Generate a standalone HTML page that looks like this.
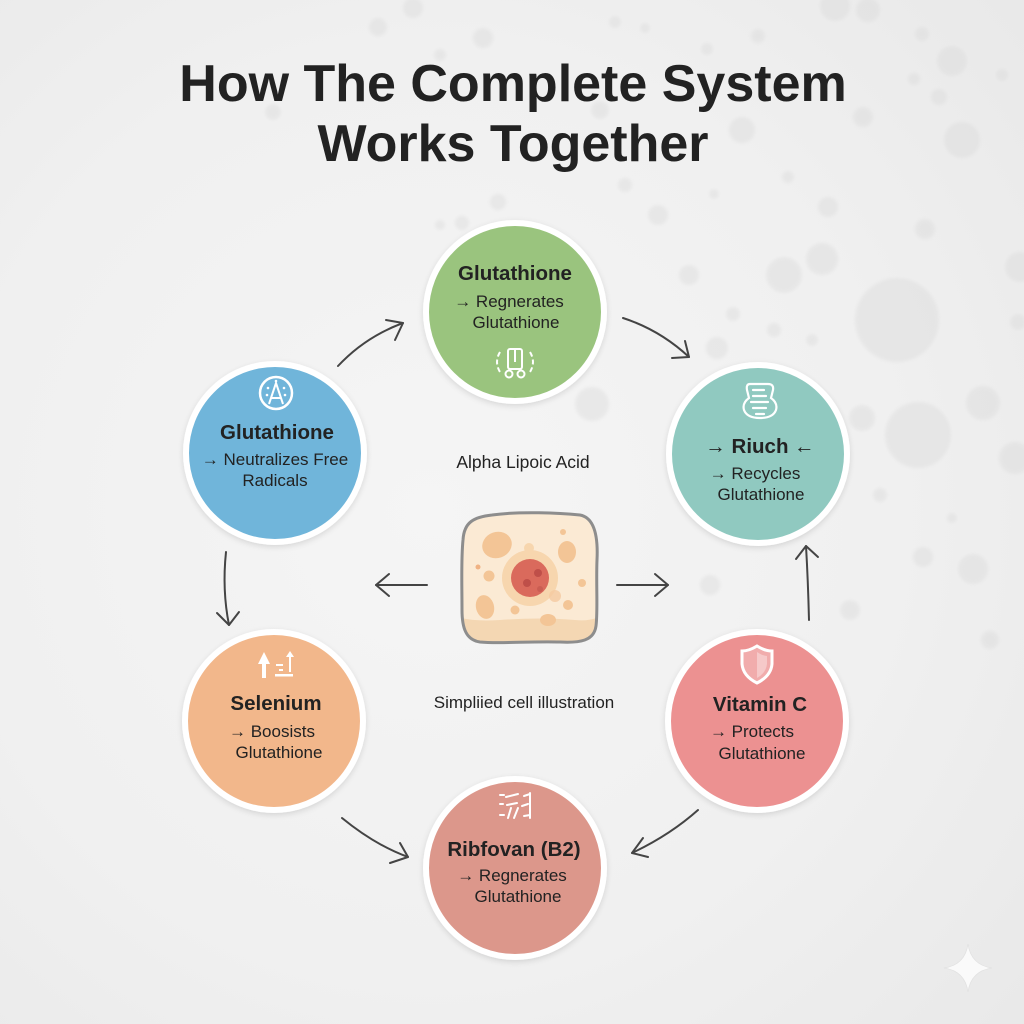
<!DOCTYPE html>
<html><head><meta charset="utf-8"><style>
html,body{margin:0;padding:0;width:1024px;height:1024px;overflow:hidden;background:#efefef}
svg{display:block}
text{font-family:"Liberation Sans",Arial,sans-serif;fill:#222}
.b{font-weight:bold;font-size:20.5px}
.r{font-size:17px}
.ar{font-weight:bold}
</style></head><body>
<svg width="1024" height="1024" viewBox="0 0 1024 1024" xmlns="http://www.w3.org/2000/svg">
<defs>
<radialGradient id="bg" cx="0.42" cy="0.5" r="0.75">
<stop offset="0" stop-color="#f5f5f5"/><stop offset="0.6" stop-color="#f0f0f0"/><stop offset="1" stop-color="#e9e9e9"/>
</radialGradient>
<filter id="sh" x="-20%" y="-20%" width="140%" height="140%"><feDropShadow dx="0" dy="2" stdDeviation="3" flood-color="#000" flood-opacity="0.12"/></filter>
<filter id="blur1"><feGaussianBlur stdDeviation="1.5"/></filter>
<clipPath id="cellclip"><path d="M492,515 C520,511 560,513 580,515 C596,518 598,540 597,560 C596,585 598,610 596,626 C594,641 580,643 560,642 C530,641 500,644 480,642 C466,640 462,628 462,610 C462,585 461,560 463,540 C464,522 474,517 492,515 Z"/></clipPath>
</defs>
<rect width="1024" height="1024" fill="url(#bg)"/>

<!-- bubbles -->
<g fill="#d8d8d8" opacity="0.38" filter="url(#blur1)">
<circle cx="952" cy="61" r="15"/><circle cx="962" cy="140" r="18"/><circle cx="897" cy="320" r="42"/>
<circle cx="918" cy="435" r="33"/><circle cx="784" cy="275" r="18"/><circle cx="822" cy="259" r="16"/>
<circle cx="828" cy="207" r="10"/><circle cx="925" cy="229" r="10"/><circle cx="939" cy="97" r="8"/>
<circle cx="922" cy="34" r="7"/><circle cx="914" cy="79" r="6"/><circle cx="1002" cy="75" r="6"/>
<circle cx="863" cy="117" r="10"/><circle cx="742" cy="130" r="13"/><circle cx="758" cy="36" r="7"/>
<circle cx="707" cy="49" r="6"/><circle cx="645" cy="28" r="5"/><circle cx="615" cy="22" r="6"/>
<circle cx="835" cy="6" r="15"/><circle cx="868" cy="10" r="12"/><circle cx="788" cy="177" r="6"/><circle cx="714" cy="194" r="5"/>
<circle cx="658" cy="215" r="10"/><circle cx="689" cy="275" r="10"/><circle cx="733" cy="314" r="7"/>
<circle cx="774" cy="330" r="7"/><circle cx="717" cy="348" r="11"/><circle cx="812" cy="340" r="6"/>
<circle cx="983" cy="403" r="17"/><circle cx="1015" cy="458" r="16"/><circle cx="952" cy="518" r="5"/>
<circle cx="923" cy="557" r="10"/><circle cx="973" cy="569" r="15"/><circle cx="1020" cy="267" r="15"/>
<circle cx="1018" cy="322" r="8"/><circle cx="862" cy="418" r="13"/><circle cx="592" cy="404" r="17"/>
<circle cx="378" cy="27" r="9"/><circle cx="413" cy="8" r="10"/><circle cx="483" cy="38" r="10"/>
<circle cx="440" cy="55" r="6"/><circle cx="273" cy="112" r="8"/><circle cx="498" cy="202" r="8"/>
<circle cx="462" cy="223" r="7"/><circle cx="440" cy="225" r="5"/><circle cx="600" cy="110" r="9"/>
<circle cx="625" cy="185" r="7"/><circle cx="710" cy="585" r="10"/><circle cx="850" cy="610" r="10"/>
<circle cx="880" cy="495" r="7"/><circle cx="990" cy="640" r="9"/>
</g>

<!-- title -->
<g style="font-weight:bold;font-size:52px" text-anchor="middle">
<text x="513" y="101" fill="#222">How The Complete System</text>
<text x="513" y="161" fill="#222">Works Together</text>
</g>

<!-- arrows -->
<g stroke="#444" stroke-width="2" fill="none" stroke-linecap="round" stroke-linejoin="round">
<path d="M338,366 Q365,337 403,323"/><path d="M386,320 L403,323 L395,340"/>
<path d="M623,318 Q660,330 689,357"/><path d="M672,358 L689,357 L685,341"/>
<path d="M809,620 Q808,580 806,546"/><path d="M796,559 L806,546 L818,557"/>
<path d="M698,810 Q670,835 632,853"/><path d="M643,838 L632,853 L648,857"/>
<path d="M342,818 Q375,845 408,857"/><path d="M400,843 L408,857 L390,863"/>
<path d="M226,552 Q222,590 229,625"/><path d="M217,613 L229,625 L239,612"/>
<path d="M427,585 L376,585"/><path d="M389,574 L376,585 L389,596"/>
<path d="M617,585 L668,585"/><path d="M655,574 L668,585 L655,596"/>
</g>

<!-- circles -->
<g filter="url(#sh)" stroke="#fff" stroke-width="6">
<circle cx="515" cy="312" r="89" fill="#9ac47e"/>
<circle cx="275" cy="453" r="89" fill="#70b5da"/>
<circle cx="758" cy="454" r="89" fill="#90c9c0"/>
<circle cx="274" cy="721" r="89" fill="#f2b78b"/>
<circle cx="757" cy="721" r="89" fill="#ec9191"/>
<circle cx="515" cy="868" r="89" fill="#dc978b"/>
</g>

<!-- green -->
<text class="b" x="515" y="280" text-anchor="middle">Glutathione</text>
<text class="r" x="509" y="307" text-anchor="middle"><tspan class="ar">→</tspan> Regnerates</text>
<text class="r" x="516" y="328" text-anchor="middle">Glutathione</text>
<g stroke="#fff" stroke-width="2" fill="none">
<rect x="508" y="349" width="14" height="20" rx="2"/>
<line x1="515" y1="349" x2="515" y2="362"/>
<circle cx="509" cy="374" r="3.5"/><circle cx="521" cy="374" r="3.5"/>
<path d="M500,352 Q494,362 500,372" stroke-dasharray="5 3"/>
<path d="M530,352 Q536,362 530,372" stroke-dasharray="5 3"/>
</g>

<!-- blue -->
<circle cx="276" cy="393" r="16" fill="none" stroke="#fff" stroke-width="2.5"/>
<path d="M269,404 L276,383 L283,404 M271,398 L281,398" stroke="#fff" stroke-width="2" fill="none"/>
<g fill="#fff"><circle cx="268" cy="388" r="1.3"/><circle cx="284" cy="388" r="1.3"/><circle cx="267" cy="395" r="1.3"/><circle cx="285" cy="395" r="1.3"/><circle cx="276" cy="381" r="1.3"/></g>
<text class="b" x="277" y="439" text-anchor="middle">Glutathione</text>
<text class="r" x="275" y="465" text-anchor="middle"><tspan class="ar">→</tspan> Neutralizes Free</text>
<text class="r" x="275" y="486" text-anchor="middle">Radicals</text>

<!-- teal -->
<g stroke="#fff" stroke-width="2.2" fill="none" stroke-linecap="round">
<path d="M750,384 L768,384 Q774,384 773,390 L771,398 Q778,403 776,410 Q773,418 760,418 Q747,418 744,410 Q742,403 749,398 L747,390 Q746,384 750,384 Z"/>
<line x1="753" y1="390" x2="764" y2="390"/><line x1="753" y1="396" x2="766" y2="396"/>
<line x1="751" y1="402" x2="768" y2="402"/><line x1="753" y1="408" x2="766" y2="408"/><line x1="756" y1="414" x2="764" y2="414"/>
</g>
<text class="b" x="760" y="453" text-anchor="middle" style="font-size:20.5px">→ Riuch ←</text>
<text class="r" x="755" y="479" text-anchor="middle"><tspan class="ar">→</tspan> Recycles</text>
<text class="r" x="761" y="500" text-anchor="middle">Glutathione</text>

<!-- orange -->
<g fill="#fff">
<path d="M258,664 L264,652 L270,664 L266,664 L266,678 L262,678 L262,664 Z"/>
<path d="M286,657 L290,651 L294,657 L291,657 L291,672 L289,672 L289,657 Z"/>
<rect x="275" y="674" width="18" height="2.5"/><rect x="276" y="664" width="7" height="2"/><rect x="279" y="669" width="4" height="2"/>
</g>
<text class="b" x="276" y="710" text-anchor="middle">Selenium</text>
<text class="r" x="272" y="737" text-anchor="middle"><tspan class="ar">→</tspan> Boosists</text>
<text class="r" x="279" y="758" text-anchor="middle">Glutathione</text>

<!-- pink -->
<path d="M757,646 Q765,651 772,651 L772,664 Q771,676 757,683 Q743,676 742,664 L742,651 Q749,651 757,646 Z" fill="rgba(255,255,255,0.25)" stroke="#fff" stroke-width="3"/>
<path d="M757,652 Q763,656 767,656 L767,664 Q766,673 757,678 Z" fill="rgba(255,255,255,0.35)"/>
<text class="b" x="760" y="711" text-anchor="middle">Vitamin C</text>
<text class="r" x="752" y="737" text-anchor="middle"><tspan class="ar">→</tspan> Protects</text>
<text class="r" x="762" y="759" text-anchor="middle">Glutathione</text>

<!-- red -->
<g stroke="#fff" stroke-width="2" fill="none" stroke-linecap="round">
<line x1="500" y1="795" x2="504" y2="795"/><line x1="506" y1="797" x2="518" y2="794"/><line x1="524" y1="796" x2="530" y2="794"/>
<line x1="500" y1="804" x2="503" y2="804"/><line x1="507" y1="805" x2="517" y2="803"/><line x1="522" y1="806" x2="528" y2="804"/>
<line x1="500" y1="815" x2="504" y2="815"/><line x1="508" y1="818" x2="511" y2="808"/><line x1="514" y1="818" x2="518" y2="808"/><line x1="524" y1="816" x2="530" y2="815"/>
<line x1="530" y1="793" x2="530" y2="818"/>
</g>
<text class="b" x="514" y="856" text-anchor="middle">Ribfovan (B2)</text>
<text class="r" x="512" y="881" text-anchor="middle"><tspan class="ar">→</tspan> Regnerates</text>
<text class="r" x="518" y="902" text-anchor="middle">Glutathione</text>

<!-- center labels -->
<text x="523" y="468" text-anchor="middle" style="font-size:17.5px">Alpha Lipoic Acid</text>
<text x="524" y="708" text-anchor="middle" style="font-size:17px">Simpliied cell illustration</text>

<!-- cell -->
<g>
<path d="M492,515 C520,511 560,513 580,515 C596,518 598,540 597,560 C596,585 598,610 596,626 C594,641 580,643 560,642 C530,641 500,644 480,642 C466,640 462,628 462,610 C462,585 461,560 463,540 C464,522 474,517 492,515 Z" fill="#fbead4"/>
<g clip-path="url(#cellclip)">
<path d="M455,616 Q470,622 500,620 Q540,617 575,620 Q592,622 605,614 L605,650 L455,650 Z" fill="#f4d7b3"/>
<ellipse cx="497" cy="545" rx="15" ry="13" fill="#f3c596" transform="rotate(-20 497 545)"/>
<ellipse cx="567" cy="552" rx="9" ry="11" fill="#f3c596"/>
<circle cx="563" cy="532" r="3" fill="#f3c596"/>
<circle cx="478" cy="567" r="2.5" fill="#f0b283"/>
<circle cx="489" cy="576" r="5.5" fill="#f3c596"/>
<circle cx="582" cy="583" r="4" fill="#f3c596"/>
<ellipse cx="485" cy="607" rx="9" ry="12" fill="#f3c596" transform="rotate(-15 485 607)"/>
<circle cx="515" cy="610" r="4.5" fill="#f3c596"/>
<ellipse cx="548" cy="620" rx="8" ry="6" fill="#f3c596"/>
<circle cx="568" cy="605" r="5" fill="#f3c596"/>
<circle cx="530" cy="578" r="28" fill="#f7d6ae"/>
<circle cx="529" cy="548" r="5" fill="#f7d6ae"/>
<circle cx="555" cy="596" r="6" fill="#f5c9a0" opacity="0.8"/>
<circle cx="530" cy="578" r="19" fill="#da6a5c"/>
<circle cx="538" cy="573" r="4" fill="#bf4f49"/>
<circle cx="527" cy="583" r="4" fill="#bf4f49"/>
<circle cx="540" cy="589" r="3" fill="#c65a50" opacity="0.8"/>
</g>
<path d="M492,515 C520,511 560,513 580,515 C596,518 598,540 597,560 C596,585 598,610 596,626 C594,641 580,643 560,642 C530,641 500,644 480,642 C466,640 462,628 462,610 C462,585 461,560 463,540 C464,522 474,517 492,515 Z" fill="none" stroke="#8d8d8d" stroke-width="3"/>
</g>

<!-- sparkle -->
<path d="M968,944 Q971,965 992,968 Q971,971 968,992 Q965,971 944,968 Q965,965 968,944 Z" fill="#fafafa" stroke="#e2e2e2" stroke-width="0.8"/>
</svg>
</body></html>
